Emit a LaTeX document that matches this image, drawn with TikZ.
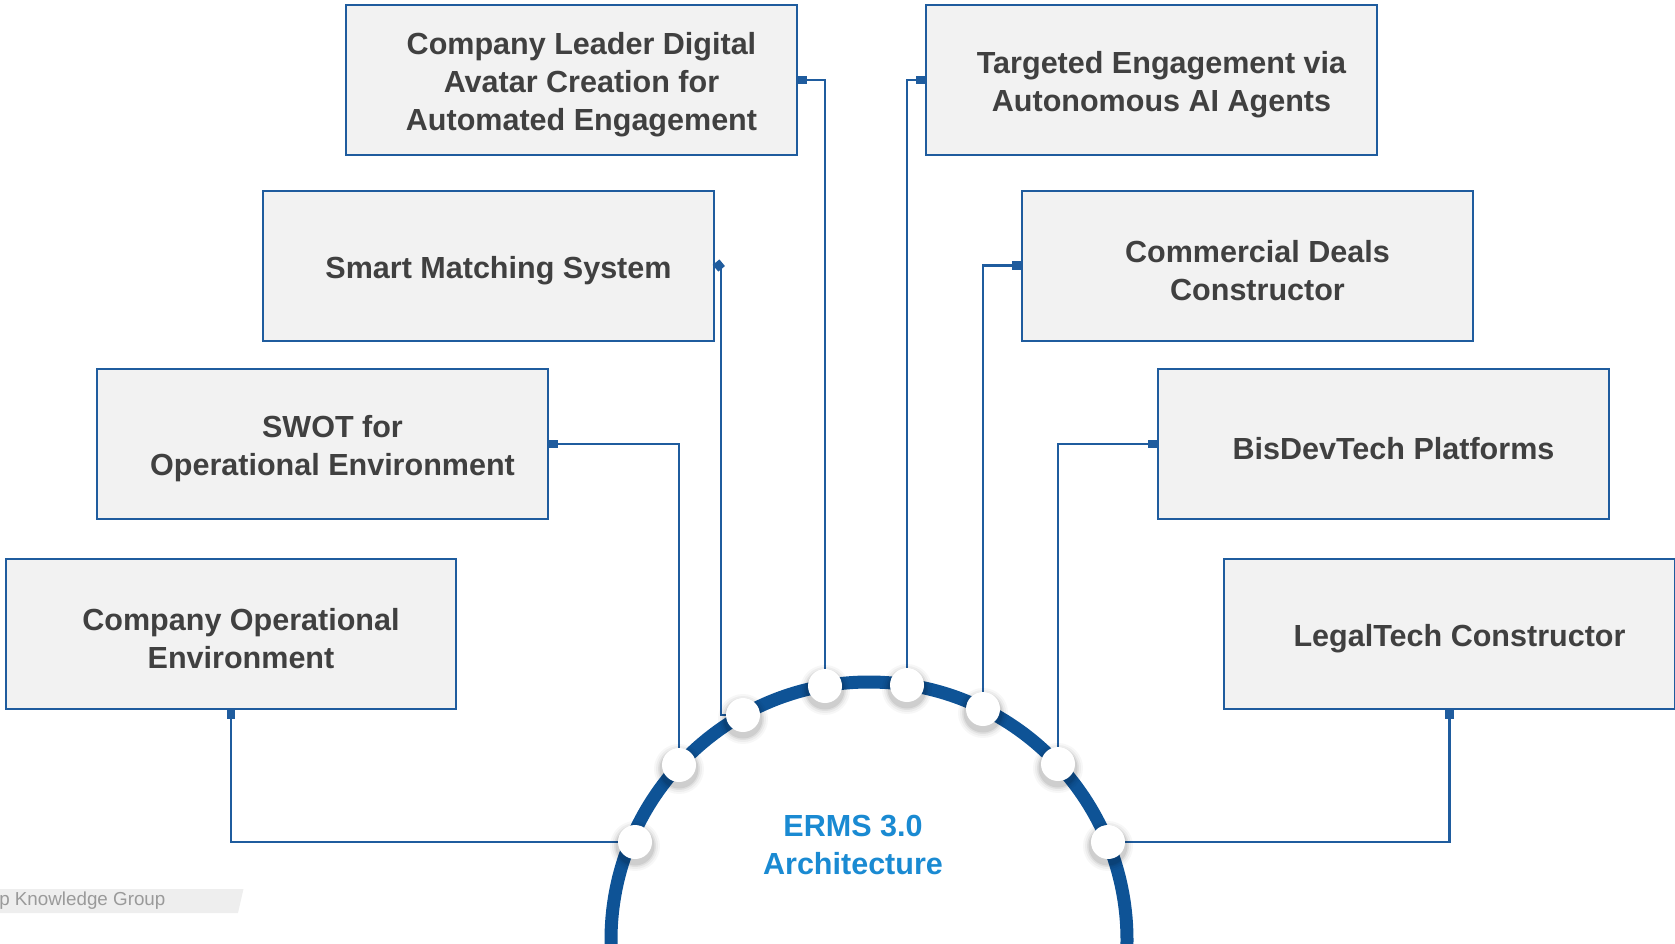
\documentclass[tikz,border=0pt]{standalone}
\usepackage{fontspec}
\setmainfont{Liberation Sans}
\usetikzlibrary{calc}
\definecolor{boxfill}{HTML}{F2F2F2}
\definecolor{boxline}{HTML}{1F5C9E}
\definecolor{arcblue}{HTML}{0E5396}
\definecolor{txtgray}{HTML}{404040}
\definecolor{ermsblue}{HTML}{1A8AD2}
\definecolor{wmfill}{HTML}{EEEEEE}
\definecolor{wmtext}{HTML}{9A9A9A}
\newcommand\boxfont{\fontsize{22.9pt}{28.5pt}\selectfont\bfseries}
\begin{document}
\begin{tikzpicture}[x=0.75pt,y=-0.75pt,
  card/.style={draw=boxline, line width=1.5pt, fill=boxfill, minimum width=338pt, minimum height=112.5pt, inner sep=0pt},
  boxtext/.style={text=txtgray, align=center, font=\boxfont, inner sep=0pt},
  conn/.style={draw=boxline, line width=1.6pt},
  tabsq/.style={fill=boxline, minimum size=6.5pt, inner sep=0pt},
  hubdot/.style={circle, fill=white, minimum size=25.5pt, inner sep=0pt}]
\useasboundingbox (0,0) rectangle (1675,943);
\clip (0,0) rectangle (1675,943);

% boxes
\node[card] (b1) at (571.5,80) {};
\node[card] (b2) at (1151.5,80) {};
\node[card] (b3) at (488.5,265.5) {};
\node[card] (b4) at (1247.5,265.5) {};
\node[card] (b5) at (322.5,444) {};
\node[card] (b6) at (1383.5,444) {};
\node[card] (b7) at (231,634) {};
\node[card] (b8) at (1449.5,634) {};

\node[boxtext] (t1) at ($(b1.center)+(10,5)$) {Company Leader Digital\\Avatar Creation for\\Automated Engagement};
\node[boxtext] (t2) at ($(b2.center)+(10,5)$) {Targeted Engagement via\\Autonomous AI Agents};
\node[boxtext] (t3) at ($(b3.center)+(10,5)$) {Smart Matching System};
\node[boxtext] (t4) at ($(b4.center)+(10,5)$) {Commercial Deals\\Constructor};
\node[boxtext] (t5) at ($(b5.center)+(10,5)$) {SWOT for\\Operational Environment};
\node[boxtext] (t6) at ($(b6.center)+(10,5)$) {BisDevTech Platforms};
\node[boxtext] (t7) at ($(b7.center)+(10,5)$) {Company Operational\\Environment};
\node[boxtext] (t8) at ($(b8.center)+(10,5)$) {LegalTech Constructor};

% dot positions on the ring
\coordinate (pA) at (635,842);
\coordinate (pB) at (679,765);
\coordinate (pC) at (743,715);
\coordinate (pD) at (825,686);
\coordinate (pE) at (907,685);
\coordinate (pF) at (983,709);
\coordinate (pG) at (1058,764);
\coordinate (pH) at (1108,842);

% connectors
\draw[conn] (b1.east) -| (pD);
\draw[conn] (b2.west) -| (pE);
\draw[conn] (b3.east) -- ++(6,0) |- (pC);
\draw[conn] (b4.west) -| (pF);
\draw[conn] (b5.east) -| (pB);
\draw[conn] (b6.west) -| (pG);
\draw[conn] (b7.south) |- (pA);
\draw[conn] (b8.south) |- (pH);

% markers
\node[tabsq, anchor=west] (m1) at (b1.east) {};
\node[tabsq, anchor=east] (m2) at (b2.west) {};
\node[tabsq, rotate=40] (m3) at ($(b3.east)+(4,0)$) {};
\node[tabsq, anchor=east] (m4) at (b4.west) {};
\node[tabsq, anchor=west] (m5) at (b5.east) {};
\node[tabsq, anchor=east] (m6) at (b6.west) {};
\node[tabsq, anchor=north] (m7) at (b7.south) {};
\node[tabsq, anchor=north] (m8) at (b8.south) {};

% ring
\draw[arcblue, line width=9.75pt] (869,940) circle[radius=258];
\node[text=ermsblue, align=center, font=\boxfont, inner sep=0pt] (erms) at (853,845) {ERMS 3.0\\Architecture};

% dots with soft shadow
\foreach \p in {pA,pB,pC,pD,pE,pF,pG,pH}{
  \foreach \r/\o in {25/0.03, 23/0.04, 21/0.06, 19.5/0.08}
    \fill[black, opacity=\o] ($(\p)+(0,4)$) circle[radius=\r];
}
\node[hubdot] (dA) at (pA) {};
\node[hubdot] (dB) at (pB) {};
\node[hubdot] (dC) at (pC) {};
\node[hubdot] (dD) at (pD) {};
\node[hubdot] (dE) at (pE) {};
\node[hubdot] (dF) at (pF) {};
\node[hubdot] (dG) at (pG) {};
\node[hubdot] (dH) at (pH) {};

% watermark
\fill[wmfill] (0,889) -- (243.5,889) -- (238,913) -- (0,913) -- cycle;
\node[anchor=west, text=wmtext, font=\fontsize{14.1pt}{16pt}\selectfont, inner sep=0pt] (wm) at (-1,901) {p Knowledge Group};
\end{tikzpicture}
\end{document}
